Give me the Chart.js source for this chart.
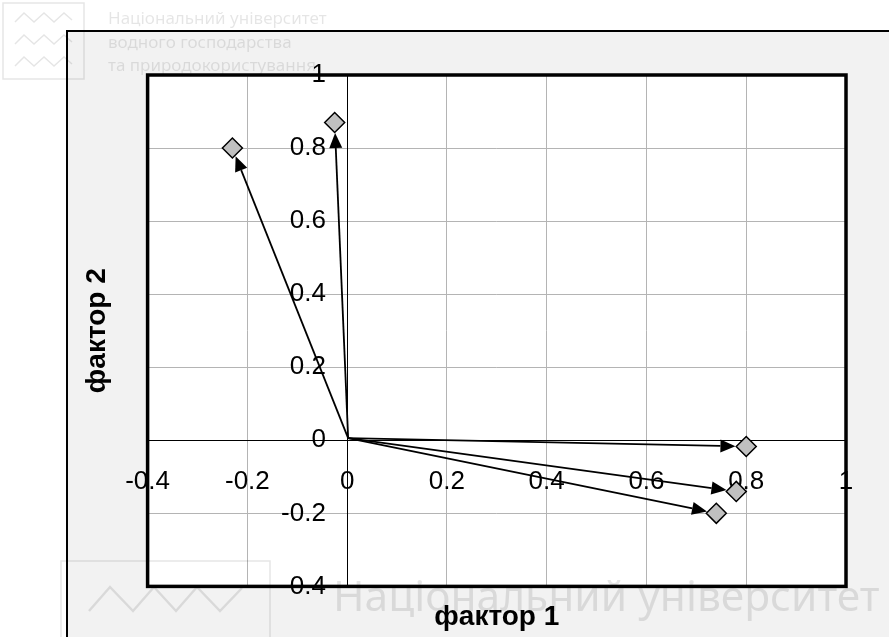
<!DOCTYPE html>
<html>
<head>
<meta charset="utf-8">
<script src="https://cdn.jsdelivr.net/npm/chart.js@4.4.1/dist/chart.umd.min.js"></script>
<style>
  html, body { margin: 0; padding: 0; background: #fff; }
  #wrap { position: relative; width: 889px; height: 637px; overflow: hidden; }
  #panel { position: absolute; left: 66px; top: 30px; width: 840px; height: 640px;
           background: #f2f2f2; border-left: 2px solid #000; border-top: 2px solid #000; }
  #chart { position: absolute; left: 0; top: 0; }
  #mark { position: absolute; left: 0; top: 0; pointer-events: none; }
</style>
</head>
<body>
<div id="wrap">
  <div id="panel"></div>
  <canvas id="chart" width="889" height="637"></canvas>
  <svg id="mark" width="889" height="637" xmlns="http://www.w3.org/2000/svg">
    <g fill="none" stroke="rgba(0,0,0,0.1)" stroke-width="1.5">
      <rect x="3" y="3" width="81" height="76"/>
      <polyline points="15,22 24,13 34,22 44,13 54,22 64,13 72,20"/>
      <polyline points="15,44 24,35 34,44 44,35 54,44 64,35 72,42"/>
      <polyline points="15,66 24,57 34,66 44,57 54,66 64,57 72,64"/>
      <rect x="61" y="561" width="209" height="100"/>
      <polyline points="89,611 110,587 133,611 154,587 176,611 197,587 220,611 242,588" stroke-width="2.5"/>
    </g>
    <g fill="rgba(0,0,0,0.1)" font-family="Noto Sans">
      <text x="108" y="24" font-size="17">Національний університет</text>
      <text x="108" y="48" font-size="17">водного господарства</text>
      <text x="108" y="71" font-size="17">та природокористування</text>
      <text x="333" y="611" font-size="42.5">Національний університет</text>
    </g>
  </svg>
</div>
<script>
// factor loadings
const factor1 = [-0.23, -0.025, 0.80, 0.78, 0.74];
const factor2 = [0.80, 0.87, -0.017, -0.14, -0.20];
const originX = 0.002;
const originY = 0.006;
const axisMin = -0.4;
const axisMax = 1;
const axisStep = 0.2;

const points = factor1.map((x, i) => ({ x: x, y: factor2[i] }));
const markerRadius = 10;

function tickText(v) {
    return String(Math.round(v * 10) / 10);
}

function gridColor(ctx) {
    return ctx.tick && Math.abs(ctx.tick.value) < 1e-9 ? '#000' : '#b4b4b4';
}

// arrows from the origin to each point, stopping at the diamond edge
const arrowPlugin = {
    id: 'arrows',
    beforeDatasetsDraw(chart) {
        const ctx = chart.ctx;
        const xs = chart.scales.x, ys = chart.scales.y;
        const ox = xs.getPixelForValue(originX), oy = ys.getPixelForValue(originY);
        ctx.save();
        ctx.strokeStyle = '#000';
        ctx.fillStyle = '#000';
        ctx.lineWidth = 1.8;
        points.forEach(p => {
            const px = xs.getPixelForValue(p.x), py = ys.getPixelForValue(p.y);
            const dx = px - ox, dy = py - oy;
            const len = Math.hypot(dx, dy);
            const ux = dx / len, uy = dy / len;
            const cut = markerRadius / (Math.abs(ux) + Math.abs(uy)) + 1;
            const tx = px - ux * cut, ty = py - uy * cut;
            const headLen = 15, headW = 6.5;
            const bx = tx - ux * headLen, by = ty - uy * headLen;
            ctx.beginPath();
            ctx.moveTo(ox, oy);
            ctx.lineTo(bx, by);
            ctx.stroke();
            ctx.beginPath();
            ctx.moveTo(tx, ty);
            ctx.lineTo(bx - uy * headW, by + ux * headW);
            ctx.lineTo(bx + uy * headW, by - ux * headW);
            ctx.closePath();
            ctx.fill();
        });
        ctx.restore();
    }
};

// white plot area and its thick frame
const framePlugin = {
    id: 'frame',
    beforeDraw(chart) {
        const a = chart.chartArea;
        chart.ctx.save();
        chart.ctx.fillStyle = '#fff';
        chart.ctx.fillRect(a.left, a.top, a.right - a.left, a.bottom - a.top);
        chart.ctx.restore();
    },
    afterDraw(chart) {
        const a = chart.chartArea;
        const ctx = chart.ctx;
        ctx.save();
        ctx.strokeStyle = '#000';
        ctx.lineWidth = 3.5;
        ctx.strokeRect(a.left, a.top, a.right - a.left, a.bottom - a.top);
        ctx.restore();
    }
};

const tickFont = { family: 'Liberation Sans, Arial, sans-serif', size: 26 };
const titleFont = { family: 'Liberation Sans, Arial, sans-serif', size: 28, weight: 'bold' };

new Chart(document.getElementById('chart'), {
    type: 'scatter',
    data: {
        datasets: [{
            data: points,
            pointStyle: 'rectRot',
            pointRadius: markerRadius,
            pointHoverRadius: markerRadius,
            backgroundColor: '#c0c0c0',
            borderColor: '#000',
            borderWidth: 1.5
        }]
    },
    options: {
        responsive: false,
        animation: false,
        layout: { padding: { left: 80, top: 75, right: 43, bottom: 0 } },
        plugins: { legend: { display: false }, tooltip: { enabled: false } },
        scales: {
            x: {
                type: 'linear',
                position: { y: 0 },
                min: axisMin, max: axisMax,
                ticks: { stepSize: axisStep, callback: tickText, color: '#000', font: tickFont, padding: 20, maxRotation: 0, autoSkip: false },
                grid: { color: gridColor, lineWidth: 1, tickLength: 6 },
                border: { display: true, color: '#000', width: 1 }
            },
            y: {
                type: 'linear',
                position: { x: 0 },
                min: axisMin, max: axisMax,
                ticks: { stepSize: axisStep, display: false },
                grid: { color: gridColor, lineWidth: 1, tickLength: 6 },
                border: { display: true, color: '#000', width: 1 }
            },
            // y tick labels, set a little left of the zero axis
            yLabels: {
                type: 'linear',
                position: { x: -0.0426 },
                min: axisMin, max: axisMax,
                ticks: { stepSize: axisStep, callback: tickText, color: '#000', font: tickFont, autoSkip: false },
                grid: { display: false, drawTicks: false },
                border: { display: false }
            },
            xt: {
                type: 'linear',
                position: 'bottom',
                ticks: { display: false },
                grid: { display: false, drawTicks: false },
                border: { display: false },
                title: { display: true, text: 'фактор 1', color: '#000', font: titleFont, padding: { top: 14, bottom: 3 } }
            },
            yt: {
                type: 'linear',
                position: 'left',
                ticks: { display: false },
                grid: { display: false, drawTicks: false },
                border: { display: false },
                title: { display: true, text: 'фактор 2', color: '#000', font: titleFont, padding: { top: 0, bottom: 34 } }
            }
        }
    },
    plugins: [framePlugin, arrowPlugin]
});
</script>
</body>
</html>
